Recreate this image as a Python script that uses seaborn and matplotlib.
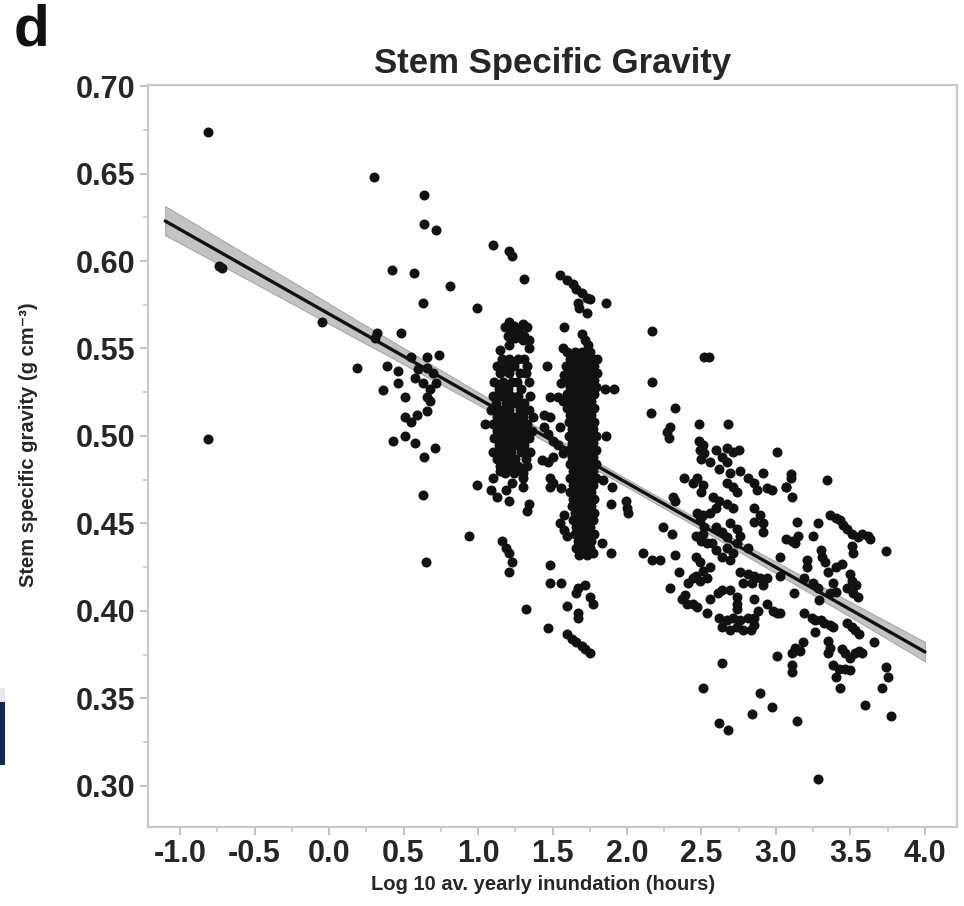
import numpy as np
import pandas as pd
import seaborn as sns
import matplotlib.pyplot as plt
from matplotlib.collections import PathCollection
from matplotlib.patches import Rectangle
from matplotlib.ticker import MultipleLocator, FormatStrFormatter

# ---------------- data ----------------
# sparse points, x < ~1.0  (log10 inundation, stem specific gravity)
left_pts = [(-0.81, 0.674), (-0.81, 0.498), (-0.74, 0.597), (-0.72, 0.596), (-0.05, 0.565),
            (0.30, 0.648), (0.64, 0.638), (0.64, 0.621), (0.72, 0.618), (0.42, 0.595),
            (0.57, 0.593), (0.81, 0.586), (0.63, 0.576), (0.99, 0.573), (0.32, 0.559),
            (0.31, 0.556), (0.48, 0.559), (0.55, 0.545), (0.66, 0.545), (0.74, 0.546),
            (0.19, 0.539), (0.39, 0.540), (0.46, 0.537), (0.60, 0.538), (0.66, 0.539),
            (0.58, 0.533), (0.70, 0.536), (0.63, 0.530), (0.68, 0.527), (0.72, 0.530),
            (0.46, 0.530), (0.36, 0.526), (0.51, 0.522), (0.66, 0.522), (0.68, 0.520),
            (0.51, 0.511), (0.55, 0.508), (0.59, 0.512), (0.66, 0.514), (0.43, 0.497),
            (0.51, 0.500), (0.58, 0.496), (0.71, 0.493), (0.64, 0.488), (0.99, 0.472),
            (0.63, 0.466), (0.94, 0.443), (0.65, 0.428)]

# cluster around x = 1.0 - 1.4
b_sparse = [(1.10, 0.609), (1.21, 0.606), (1.23, 0.603), (1.31, 0.590), (1.46, 0.540), (1.05, 0.507),
            (1.10, 0.476), (1.15, 0.480), (1.09, 0.469), (1.13, 0.465), (1.19, 0.469), (1.21, 0.463),
            (1.23, 0.473), (1.30, 0.476), (1.30, 0.471), (1.34, 0.461), (1.33, 0.457),
            (1.16, 0.440), (1.19, 0.436), (1.21, 0.433), (1.23, 0.428), (1.21, 0.422), (1.32, 0.401),
            (1.18, 0.562), (1.21, 0.565), (1.24, 0.563), (1.27, 0.561), (1.30, 0.564), (1.33, 0.562),
            (1.20, 0.557), (1.25, 0.556), (1.31, 0.557), (1.34, 0.555), (1.22, 0.560), (1.28, 0.558),
            (1.15, 0.549), (1.21, 0.552), (1.30, 0.555), (1.34, 0.550)]
b_rows = [(0.544, (1.16, 1.21, 1.27, 1.31)),
          (0.540, (1.13, 1.19, 1.24, 1.33)),
          (0.536, (1.15, 1.21, 1.28, 1.32)),
          (0.531, (1.11, 1.17, 1.23, 1.26, 1.34)),
          (0.527, (1.14, 1.20, 1.29)),
          (0.523, (1.10, 1.16, 1.22, 1.27, 1.35)),
          (0.519, (1.12, 1.19, 1.25, 1.31)),
          (0.515, (1.09, 1.15, 1.21, 1.28, 1.34)),
          (0.511, (1.13, 1.18, 1.24, 1.30, 1.37)),
          (0.507, (1.10, 1.16, 1.22, 1.27, 1.33)),
          (0.503, (1.13, 1.19, 1.25, 1.31, 1.36)),
          (0.499, (1.11, 1.17, 1.22, 1.28, 1.34)),
          (0.495, (1.14, 1.20, 1.26, 1.31)),
          (0.491, (1.10, 1.16, 1.22, 1.29, 1.35)),
          (0.487, (1.13, 1.19, 1.25, 1.32)),
          (0.483, (1.15, 1.21, 1.27, 1.33)),
          (0.479, (1.18, 1.24, 1.30))]

# cluster around x = 1.4 - 2.0
c_sparse = [(1.55, 0.592), (1.60, 0.589), (1.64, 0.587), (1.66, 0.584), (1.70, 0.582), (1.73, 0.579),
            (1.75, 0.578), (1.67, 0.576), (1.68, 0.573), (1.73, 0.570), (1.86, 0.576), (1.58, 0.562),
            (1.70, 0.558), (1.72, 0.555), (1.74, 0.552), (1.57, 0.550), (1.85, 0.527), (1.91, 0.527),
            (1.48, 0.522), (1.54, 0.522), (1.44, 0.512), (1.48, 0.511), (1.44, 0.505), (1.47, 0.501),
            (1.50, 0.497), (1.54, 0.495), (1.86, 0.500), (1.43, 0.486), (1.47, 0.485), (1.50, 0.488),
            (1.48, 0.476), (1.50, 0.473), (1.48, 0.471), (1.84, 0.475), (1.90, 0.471), (1.89, 0.461),
            (1.99, 0.463), (2.00, 0.459), (2.01, 0.456), (1.55, 0.450), (1.58, 0.446), (1.60, 0.443),
            (1.83, 0.439), (1.89, 0.433), (1.77, 0.433), (1.48, 0.426), (1.48, 0.416), (1.56, 0.416),
            (1.67, 0.413), (1.72, 0.415), (1.66, 0.410), (1.75, 0.408), (1.77, 0.404), (1.60, 0.403),
            (1.67, 0.399), (1.67, 0.396), (1.47, 0.390), (1.60, 0.387), (1.63, 0.384), (1.66, 0.382),
            (1.70, 0.380), (1.72, 0.378), (1.75, 0.376),
            (1.56, 0.530), (1.57, 0.520), (1.55, 0.505), (1.57, 0.490), (1.56, 0.470), (1.58, 0.455),
            (1.58, 0.535)]
c_rows = [(0.548, (1.60, 1.65, 1.70, 1.75)),
          (0.544, (1.62, 1.67, 1.72, 1.77, 1.80)),
          (0.540, (1.59, 1.64, 1.69, 1.74, 1.78)),
          (0.536, (1.61, 1.66, 1.71, 1.76, 1.80)),
          (0.532, (1.60, 1.64, 1.69, 1.73, 1.78)),
          (0.528, (1.62, 1.67, 1.71, 1.76, 1.79)),
          (0.524, (1.60, 1.65, 1.69, 1.74, 1.78)),
          (0.520, (1.62, 1.67, 1.72, 1.76)),
          (0.516, (1.60, 1.64, 1.69, 1.74, 1.78)),
          (0.512, (1.62, 1.66, 1.71, 1.76)),
          (0.508, (1.61, 1.65, 1.70, 1.74, 1.78)),
          (0.504, (1.63, 1.68, 1.72, 1.77)),
          (0.500, (1.61, 1.65, 1.70, 1.75, 1.79)),
          (0.496, (1.63, 1.67, 1.72, 1.77)),
          (0.492, (1.61, 1.66, 1.70, 1.75, 1.79)),
          (0.488, (1.63, 1.68, 1.73, 1.77)),
          (0.484, (1.62, 1.66, 1.71, 1.75, 1.79)),
          (0.480, (1.64, 1.68, 1.73, 1.77)),
          (0.476, (1.62, 1.66, 1.71, 1.75, 1.79)),
          (0.472, (1.64, 1.69, 1.73, 1.77)),
          (0.468, (1.62, 1.67, 1.71, 1.76)),
          (0.464, (1.64, 1.69, 1.74, 1.78)),
          (0.460, (1.63, 1.67, 1.72, 1.76)),
          (0.456, (1.65, 1.70, 1.74, 1.78)),
          (0.452, (1.64, 1.68, 1.73, 1.77)),
          (0.448, (1.66, 1.71, 1.75)),
          (0.444, (1.65, 1.69, 1.74, 1.78)),
          (0.440, (1.67, 1.72, 1.76)),
          (0.436, (1.66, 1.70, 1.75)),
          (0.432, (1.68, 1.73))]

# cloud around x = 2.0 - 3.0
d_pts = [(2.17, 0.560), (2.17, 0.531), (2.52, 0.545), (2.55, 0.545),
         (2.16, 0.513), (2.32, 0.516), (2.29, 0.505), (2.27, 0.502), (2.28, 0.499), (2.48, 0.507),
         (2.68, 0.507), (2.48, 0.497), (2.51, 0.495), (2.49, 0.492), (2.52, 0.490), (2.50, 0.487),
         (2.56, 0.485), (2.60, 0.492), (2.67, 0.493), (2.71, 0.491), (2.75, 0.492), (2.64, 0.488),
         (2.67, 0.485), (3.01, 0.491), (2.38, 0.476), (2.44, 0.473), (2.47, 0.476), (2.51, 0.472),
         (2.50, 0.468), (2.31, 0.465), (2.32, 0.463), (2.62, 0.481), (2.69, 0.479), (2.76, 0.480),
         (2.81, 0.476), (2.85, 0.473), (2.91, 0.479), (2.87, 0.469), (2.94, 0.470), (2.97, 0.469),
         (2.67, 0.473), (2.71, 0.471), (2.74, 0.468), (3.10, 0.476), (3.07, 0.471), (3.11, 0.465),
         (2.58, 0.465), (2.62, 0.463), (2.67, 0.461), (2.71, 0.459), (2.60, 0.459), (2.56, 0.456),
         (2.51, 0.455), (2.47, 0.456), (2.85, 0.459), (2.89, 0.455), (2.85, 0.451), (2.91, 0.450),
         (2.91, 0.445), (2.49, 0.452), (2.52, 0.448), (2.51, 0.444), (2.50, 0.440), (2.54, 0.439),
         (2.57, 0.439), (2.60, 0.448), (2.64, 0.445), (2.67, 0.442), (2.24, 0.448), (2.30, 0.444),
         (2.46, 0.443), (2.69, 0.450), (2.74, 0.447), (2.76, 0.443), (2.81, 0.436), (2.74, 0.439),
         (2.60, 0.435), (2.67, 0.436), (2.71, 0.433), (2.64, 0.431), (2.69, 0.429), (2.11, 0.433),
         (2.17, 0.429), (2.22, 0.429), (2.32, 0.432), (2.46, 0.431), (2.49, 0.428), (2.51, 0.423),
         (2.56, 0.425), (2.54, 0.419), (2.49, 0.417), (2.46, 0.420), (2.35, 0.422), (2.41, 0.416),
         (2.44, 0.419), (2.76, 0.422), (2.81, 0.421), (2.85, 0.420), (2.78, 0.416), (2.84, 0.416),
         (2.89, 0.419), (2.94, 0.419), (2.91, 0.415), (2.29, 0.413), (2.37, 0.407), (2.40, 0.404),
         (2.44, 0.404), (2.47, 0.402), (2.39, 0.409), (2.56, 0.407), (2.61, 0.410), (2.64, 0.412),
         (2.54, 0.399), (2.69, 0.412), (2.74, 0.408), (2.74, 0.404), (2.74, 0.401), (2.85, 0.407),
         (2.88, 0.400), (2.94, 0.404), (2.98, 0.400), (3.01, 0.399), (2.62, 0.396), (2.67, 0.395),
         (2.71, 0.396), (2.76, 0.395), (2.81, 0.396), (2.85, 0.396), (2.64, 0.391), (2.69, 0.389),
         (2.74, 0.391), (2.78, 0.389), (2.83, 0.389), (2.85, 0.392), (3.12, 0.410), (3.01, 0.374),
         (3.11, 0.369), (3.11, 0.365), (2.64, 0.370), (2.51, 0.356), (2.89, 0.353), (2.97, 0.345),
         (2.84, 0.341), (2.62, 0.336), (2.68, 0.332), (3.14, 0.337),
         (3.10, 0.478), (3.07, 0.471)]

# cloud around x = 3.0 - 3.8
e_pts = [(3.34, 0.475), (3.36, 0.455), (3.40, 0.453), (3.43, 0.452), (3.45, 0.449), (3.48, 0.447),
         (3.51, 0.444), (3.55, 0.442), (3.58, 0.444), (3.62, 0.443), (3.63, 0.441), (3.51, 0.437),
         (3.52, 0.433), (3.74, 0.434), (3.14, 0.451), (3.25, 0.443), (3.28, 0.450), (3.07, 0.441),
         (3.11, 0.440), (3.15, 0.443), (3.13, 0.439), (3.30, 0.435), (3.31, 0.431), (3.33, 0.428),
         (3.21, 0.429), (3.21, 0.425), (3.03, 0.431), (3.03, 0.420), (3.40, 0.425), (3.44, 0.427),
         (3.35, 0.422), (3.50, 0.421), (3.51, 0.417), (3.54, 0.415), (3.48, 0.413), (3.52, 0.410),
         (3.55, 0.408), (3.19, 0.419), (3.25, 0.416), (3.28, 0.413), (3.38, 0.416), (3.36, 0.410),
         (3.40, 0.411), (3.29, 0.406), (3.03, 0.399), (3.19, 0.399), (3.24, 0.396), (3.26, 0.395),
         (3.30, 0.395), (3.32, 0.393), (3.36, 0.392), (3.38, 0.391), (3.48, 0.393), (3.51, 0.391),
         (3.53, 0.389), (3.56, 0.387), (3.26, 0.388), (3.66, 0.382), (3.13, 0.379), (3.16, 0.377),
         (3.18, 0.382), (3.11, 0.376), (3.35, 0.383), (3.36, 0.379), (3.35, 0.376), (3.44, 0.378),
         (3.46, 0.376), (3.50, 0.373), (3.53, 0.376), (3.56, 0.377), (3.58, 0.376), (3.38, 0.369),
         (3.42, 0.367), (3.46, 0.367), (3.50, 0.366), (3.40, 0.362), (3.43, 0.356), (3.74, 0.368),
         (3.75, 0.362), (3.71, 0.356), (3.60, 0.346), (3.77, 0.340), (3.28, 0.304)]

# ---------------- assemble ----------------
pts = list(left_pts) + list(b_sparse) + list(c_sparse) + list(d_pts) + list(e_pts)
for yv, xs in b_rows + c_rows:
    pts += [(xv, yv) for xv in xs]
df = pd.DataFrame(pts, columns=["inundation", "ssg"])

sns.set_theme(style="white")
plt.rcParams['font.family'] = ['Liberation Sans', 'DejaVu Sans']
plt.rcParams['axes.unicode_minus'] = False

W, H = 964, 906
fig = plt.figure(figsize=(W / 100, H / 100), dpi=100)
ax = fig.add_axes([148 / W, (H - 827) / H, (957 - 148) / W, (827 - 85) / H])

ax.set_xlim(-1.1, 4.0)  # range over which the fitted line is drawn
sns.regplot(data=df, x="inundation", y="ssg", ax=ax, truncate=False, ci=80, seed=1,
            scatter_kws=dict(s=52, color="#111111", linewidths=0, alpha=1, zorder=3),
            line_kws=dict(color="#111111", lw=2.4, zorder=4))

for coll in ax.collections:
    if not isinstance(coll, PathCollection):
        coll.set_facecolor("#bdbdbd")
        coll.set_alpha(0.9)
        coll.set_edgecolor("#a3a3a3")
        coll.set_linewidth(0.8)
        coll.set_zorder(2)

ax.set_xlim(-1.215, 4.215)
ax.set_ylim(0.2765, 0.7006)

ax.xaxis.set_major_locator(MultipleLocator(0.5))
ax.xaxis.set_minor_locator(MultipleLocator(0.25))
ax.yaxis.set_major_locator(MultipleLocator(0.05))
ax.yaxis.set_minor_locator(MultipleLocator(0.025))
ax.xaxis.set_major_formatter(FormatStrFormatter('%.1f'))
ax.yaxis.set_major_formatter(FormatStrFormatter('%.2f'))

for sp in ax.spines.values():
    sp.set_visible(True)
    sp.set_color("#c8c8c8")
    sp.set_linewidth(1.6)

ax.tick_params(which="major", direction="out", length=6, width=1.4, color="#c0c0c0",
               labelsize=22, labelcolor="#262626", pad=3, bottom=True, left=True)
ax.tick_params(which="minor", direction="out", length=3.5, width=1.2, color="#c8c8c8",
               bottom=True, left=True)
for lab in ax.get_xticklabels() + ax.get_yticklabels():
    lab.set_fontweight("bold")

ax.set_title("Stem Specific Gravity", fontsize=25, fontweight="bold", color="#262626", pad=9)
ax.set_xlabel("Log 10 av. yearly inundation (hours)", fontsize=14.5, fontweight="bold",
              color="#262626")
ax.xaxis.set_label_coords((543 - 148) / (957 - 148), -(885 - 827) / (827 - 85), transform=ax.transAxes)
ax.xaxis.label.set_va("center")
ax.set_ylabel("Stem specific gravity (g cm⁻³)", fontsize=14.5, fontweight="bold",
              color="#262626")
ax.yaxis.set_label_coords(-(148 - 28) / (957 - 148), (827 - 445) / (827 - 85), transform=ax.transAxes)
ax.yaxis.label.set_va("center")

fig.text(14 / W, 1 - 3 / H, "d", fontsize=42, fontweight="bold", color="#111111",
         ha="left", va="top")

# cropped-edge artefact at left border
fig.patches.append(Rectangle((0, (H - 702) / H), 5 / W, 14 / H, transform=fig.transFigure,
                             facecolor="#e6e8ec", edgecolor="none"))
fig.patches.append(Rectangle((0, (H - 765) / H), 5 / W, 63 / H, transform=fig.transFigure,
                             facecolor="#15294f", edgecolor="none"))

fig.savefig("out.png", dpi=100)
